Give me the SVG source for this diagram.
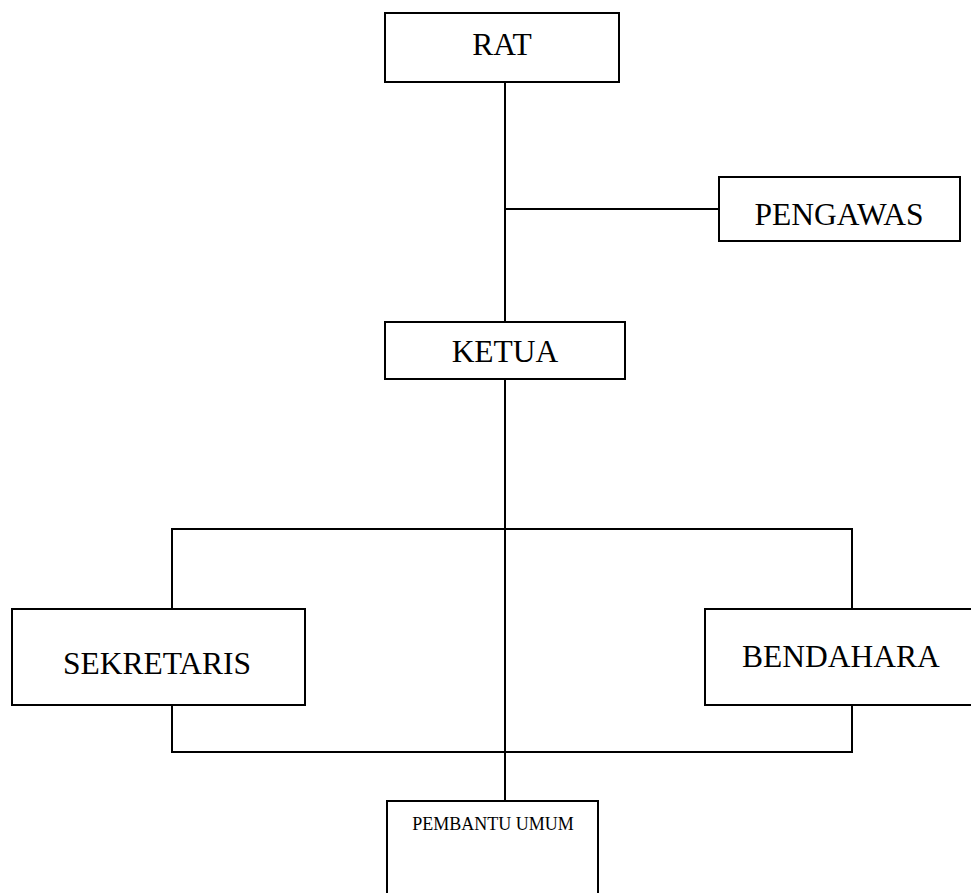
<svg xmlns="http://www.w3.org/2000/svg" width="971" height="893" viewBox="0 0 971 893">
<style>
.box{fill:#fff;stroke:#000;stroke-width:2}
.ln{fill:none;stroke:#000;stroke-width:2}
.t{font-family:"Liberation Serif","Times New Roman",serif;font-size:31.5px;fill:#000;text-anchor:middle}
.s{font-size:18px}
</style>
<rect width="971" height="893" fill="#fff"/>
<g id="connectors">
<path class="ln" d="M505,82 V322"/>
<path class="ln" d="M505,209 H719"/>
<path class="ln" d="M505,379 V801"/>
<path class="ln" d="M172,609 V529 H852 V609"/>
<path class="ln" d="M172,705 V752 H852 V705"/>
</g>
<g id="rat"><rect class="box" x="385" y="13" width="234" height="69"/><text class="t" x="502" y="55">RAT</text></g>
<g id="pengawas"><rect class="box" x="719" y="177" width="241" height="64"/><text class="t" x="839" y="225">PENGAWAS</text></g>
<g id="ketua"><rect class="box" x="385" y="322" width="240" height="57"/><text class="t" x="505" y="362">KETUA</text></g>
<g id="sekretaris"><rect class="box" x="12" y="609" width="293" height="96"/><text class="t" x="157" y="674">SEKRETARIS</text></g>
<g id="bendahara"><rect class="box" x="705" y="609" width="268" height="96"/><text class="t" x="841" y="667">BENDAHARA</text></g>
<g id="pembantu-umum"><rect class="box" x="387" y="801" width="211" height="100"/><text class="t s" x="493" y="830">PEMBANTU UMUM</text></g>
</svg>
